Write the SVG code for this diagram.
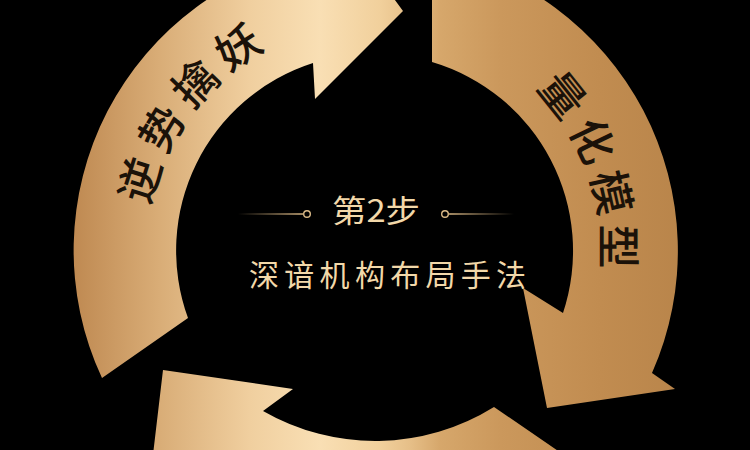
<svg xmlns="http://www.w3.org/2000/svg" width="750" height="450" viewBox="0 0 750 450">
  <defs>
    <linearGradient id="gold" gradientUnits="userSpaceOnUse" x1="70" y1="0" x2="690" y2="0">
      <stop offset="0" stop-color="#be8850"/>
      <stop offset="0.145" stop-color="#d9ad77"/>
      <stop offset="0.29" stop-color="#f0cf9f"/>
      <stop offset="0.403" stop-color="#f9dfb4"/>
      <stop offset="0.5" stop-color="#f1d09c"/>
      <stop offset="0.548" stop-color="#e6bf88"/>
      <stop offset="0.597" stop-color="#d6a76b"/>
      <stop offset="0.694" stop-color="#cb985c"/>
      <stop offset="0.855" stop-color="#c18c50"/>
      <stop offset="1" stop-color="#b8844a"/>
    </linearGradient>
    <linearGradient id="lineL" gradientUnits="userSpaceOnUse" x1="238" y1="0" x2="304" y2="0">
      <stop offset="0" stop-color="#d8b683" stop-opacity="0"/>
      <stop offset="1" stop-color="#d8b683"/>
    </linearGradient>
    <linearGradient id="lineR" gradientUnits="userSpaceOnUse" x1="449" y1="0" x2="514" y2="0">
      <stop offset="0" stop-color="#d8b683"/>
      <stop offset="1" stop-color="#d8b683" stop-opacity="0"/>
    </linearGradient>
    <path id="ring" d="M 146 250 A 228 228 0 1 1 602 250 A 228 228 0 1 1 146 250"/>
  </defs>
  <style>
    .arrow { fill: url(#gold); }
    .label { font-family: "Noto Sans CJK SC", sans-serif; font-size: 44px; font-weight: 500; fill: #1b1209; }
    .center { font-family: "Noto Sans CJK SC", sans-serif; fill: #f2d8a9; }
    .deco { stroke-width: 1.4; fill: none; }
  </style>
  <rect x="0" y="0" width="750" height="450" fill="#000"/>

  <g id="step-left">
    <path class="arrow" d="M 102 378 A 302 302 0 0 1 322 -47 L 340 -75 L 403 11 L 315 99 L 313 63 A 197 197 0 0 0 188 318 Z"/>
    <text class="label" letter-spacing="8.4"><textPath href="#ring" startOffset="44">逆势擒妖</textPath></text>
  </g>

  <g id="step-right">
    <path class="arrow" d="M 432 -46 A 302 302 0 0 1 652 373 L 675 389 L 547 408 L 523 288 L 563 313 A 197 197 0 0 0 432 62 Z"/>
    <text class="label" letter-spacing="7.2"><textPath href="#ring" startOffset="537">量化模型</textPath></text>
  </g>

  <g id="step-bottom">
    <path class="arrow" d="M 583 468 L 494 407 A 225 225 0 0 1 263 411 L 293 389 L 163 370 L 148 497 L 174 476 A 302 302 0 0 0 583 468 Z"/>
  </g>

  <g id="center">
    <line class="deco" x1="238" y1="214" x2="303" y2="214" stroke="url(#lineL)"/>
    <circle class="deco" cx="307" cy="214" r="3.3" stroke="#dcbb88"/>
    <circle class="deco" cx="445" cy="214" r="3.3" stroke="#dcbb88"/>
    <line class="deco" x1="449" y1="214" x2="514" y2="214" stroke="url(#lineR)"/>
    <text class="center" x="332" y="222" font-size="31" textLength="88" lengthAdjust="spacingAndGlyphs">第2步</text>
    <text class="center" x="249" y="286" font-size="30" letter-spacing="5.3">深谙机构布局手法</text>
  </g>
</svg>
